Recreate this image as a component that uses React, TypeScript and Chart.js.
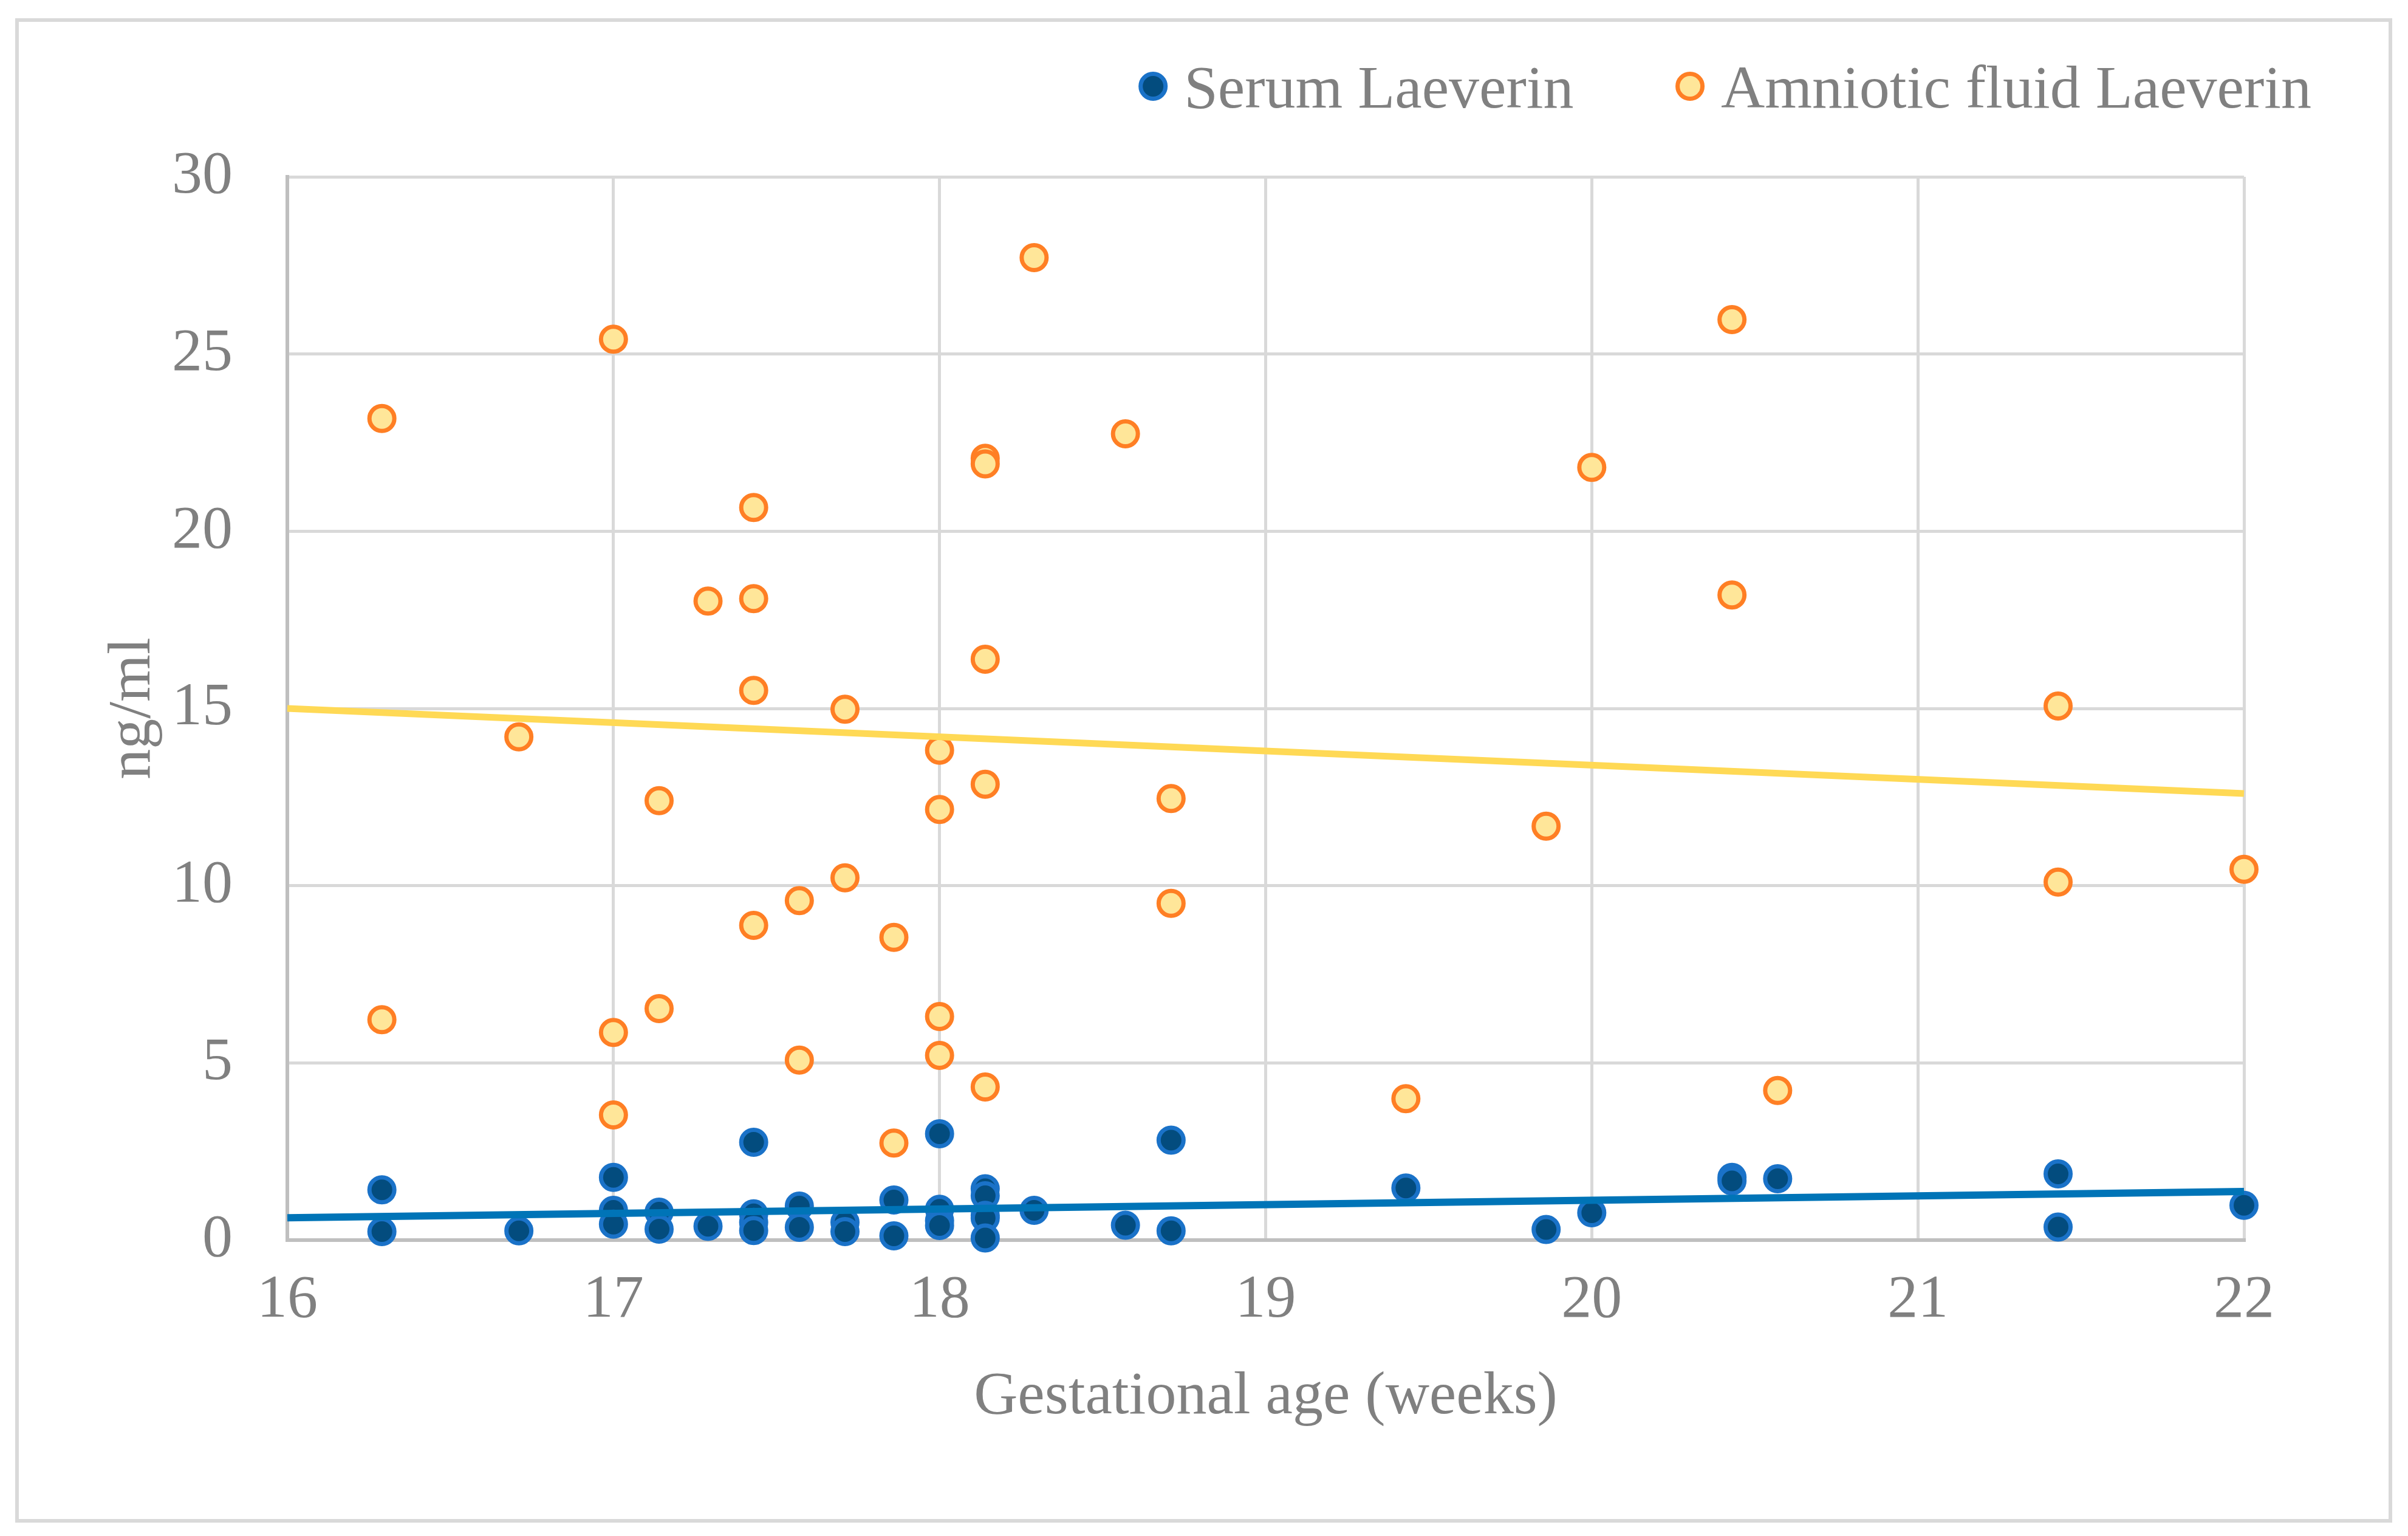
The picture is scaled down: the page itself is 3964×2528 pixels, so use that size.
import React, { useEffect, useRef } from "react";
import { Chart, registerables } from "chart.js";

Chart.register(...registerables);

// ---- data ----
const serumX = [
  16.29, 16.29, 16.71, 17.0, 17.0, 17.0, 17.14, 17.14, 17.29, 17.43, 17.43, 17.43, 17.43,
  17.57, 17.57, 17.71, 17.71, 17.86, 17.86, 18.0, 18.0, 18.0, 18.0, 18.14, 18.14, 18.14,
  18.14, 18.14, 18.29, 18.57, 18.71, 18.71, 19.43, 19.86, 20.0, 20.43, 20.43, 20.57, 21.43,
  21.43, 22.0,
];
const serumY = [
  1.42, 0.24, 0.26, 1.77, 0.84, 0.45, 0.79, 0.31, 0.39, 2.76, 0.74, 0.5, 0.27,
  0.96, 0.36, 0.5, 0.24, 1.13, 0.12, 3.0, 0.87, 0.55, 0.41, 1.45, 1.25, 0.7,
  0.62, 0.06, 0.84, 0.42, 2.82, 0.26, 1.47, 0.3, 0.77, 1.77, 1.67, 1.73, 1.87,
  0.37, 0.98,
];
const amnioX = [
  16.29, 16.29, 16.71, 17.0, 17.0, 17.0, 17.14, 17.14, 17.29, 17.43, 17.43, 17.43, 17.43,
  17.57, 17.57, 17.71, 17.71, 17.86, 17.86, 18.0, 18.0, 18.0, 18.0, 18.14, 18.14, 18.14,
  18.14, 18.14, 18.29, 18.57, 18.71, 18.71, 19.43, 19.86, 20.0, 20.43, 20.43, 20.57, 21.43,
  21.43, 22.0,
];
const amnioY = [
  23.18, 6.22, 14.2, 25.42, 5.86, 3.53, 12.4, 6.53, 18.03, 20.67, 18.1, 15.51, 8.88,
  9.58, 5.08, 14.98, 10.22, 8.54, 2.74, 13.82, 12.15, 6.31, 5.21, 22.06, 21.9, 16.39,
  12.86, 4.32, 27.72, 22.75, 12.46, 9.5, 3.99, 11.68, 21.8, 25.97, 18.2, 4.22, 15.07,
  10.1, 10.46,
];
const trendX = [16, 22];
const serumTrendY = [0.63, 1.37];
const amnioTrendY = [15.0, 12.6];

const seriesNames = ["Serum Laeverin", "Amniotic fluid Laeverin"];
const xAxisTitle = "Gestational age (weeks)";
const yAxisTitle = "ng/ml";
const xRange = [16, 22];
const yRange = [0, 30];
const xStep = 1;
const yStep = 5;

const TEXT = "#808080";
const FONT = '"Liberation Serif", "Times New Roman", serif';

const zip = (xs: number[], ys: number[]) => xs.map((x, i) => ({ x, y: ys[i] }));

const frame = {
  id: "frame",
  beforeDraw(chart: any) {
    const { ctx, width, height } = chart;
    ctx.save();
    ctx.fillStyle = "#ffffff";
    ctx.fillRect(0, 0, width, height);
    ctx.strokeStyle = "#d9d9d9";
    ctx.lineWidth = 6;
    ctx.strokeRect(28, 33, width - 57, height - 58);
    ctx.restore();
  },
};

const legend = {
  id: "customLegend",
  afterDraw(chart: any) {
    const { ctx } = chart;
    const items = chart.data.datasets.filter((d: any) => d.legendName);
    ctx.save();
    ctx.font = `100px ${FONT}`;
    ctx.textBaseline = "alphabetic";
    ctx.textAlign = "left";
    const right = 3805;
    const gap = 167;
    const markToText = 51;
    const r = 20.5;
    const y = 177;
    let x = right;
    const layout: any[] = [];
    for (let i = items.length - 1; i >= 0; i--) {
      const w = ctx.measureText(items[i].legendName).width;
      const textX = x - w;
      const markX = textX - markToText;
      layout.unshift({ item: items[i], textX, markX });
      x = markX - r - 4 - gap;
    }
    layout.forEach(({ item, textX, markX }) => {
      ctx.beginPath();
      ctx.arc(markX, 142, r, 0, Math.PI * 2);
      ctx.fillStyle = item.backgroundColor;
      ctx.fill();
      ctx.lineWidth = item.borderWidth;
      ctx.strokeStyle = item.borderColor;
      ctx.stroke();
      ctx.fillStyle = TEXT;
      ctx.fillText(item.legendName, textX, y);
    });
    ctx.restore();
  },
};

export default function App() {
  const ref = useRef<HTMLCanvasElement | null>(null);

  useEffect(() => {
    if (!ref.current) return;
    Chart.defaults.font.family = FONT;
    Chart.defaults.font.size = 100;
    Chart.defaults.color = TEXT;

    const chart = new Chart(ref.current, {
      type: "scatter",
      data: {
        datasets: [
          {
            type: "line",
            label: "Serum trend",
            data: zip(trendX, serumTrendY),
            borderColor: "#0074B7",
            borderWidth: 12,
            pointRadius: 0,
            fill: false,
            clip: false,
          } as any,
          {
            type: "line",
            label: "Amniotic trend",
            data: zip(trendX, amnioTrendY),
            borderColor: "#FFD955",
            borderWidth: 11,
            pointRadius: 0,
            fill: false,
            clip: false,
          } as any,
          {
            label: seriesNames[0],
            legendName: seriesNames[0],
            data: zip(serumX, serumY),
            backgroundColor: "#034C7E",
            borderColor: "#1A72C8",
            borderWidth: 7,
            pointRadius: 20.5,
            clip: false,
          } as any,
          {
            label: seriesNames[1],
            legendName: seriesNames[1],
            data: zip(amnioX, amnioY),
            backgroundColor: "#FFE699",
            borderColor: "#FF7F24",
            borderWidth: 7,
            pointRadius: 20.5,
            clip: false,
          } as any,
        ],
      },
      options: {
        animation: false,
        responsive: true,
        maintainAspectRatio: false,
        devicePixelRatio: 1,
        layout: { padding: { left: 30, right: 270, top: 291, bottom: 30 } },
        plugins: {
          legend: { display: false },
          tooltip: { enabled: false },
        },
        scales: {
          x: {
            type: "linear",
            min: xRange[0],
            max: xRange[1],
            ticks: { stepSize: xStep, padding: 40, color: TEXT, font: { size: 100 } },
            grid: { color: "#d9d9d9", lineWidth: 5, drawTicks: false },
            border: { color: "#bfbfbf", width: 6 },
            title: {
              display: true,
              text: xAxisTitle,
              color: TEXT,
              font: { size: 100 },
              padding: { top: 0, bottom: 138 },
            },
            afterFit: (s: any) => {
              s.height = 457;
            },
          },
          y: {
            type: "linear",
            min: yRange[0],
            max: yRange[1],
            ticks: { stepSize: yStep, padding: 90, color: TEXT, font: { size: 100 } },
            grid: { color: "#d9d9d9", lineWidth: 5, drawTicks: false },
            border: { color: "#bfbfbf", width: 6 },
            title: {
              display: true,
              text: yAxisTitle,
              color: TEXT,
              font: { size: 100 },
              padding: { top: 130, bottom: 0 },
            },
            afterFit: (s: any) => {
              s.width = 443;
            },
          },
        },
      } as any,
      plugins: [frame, legend],
    });
    return () => chart.destroy();
  }, []);

  return (
    <div style={{ position: "absolute", left: 0, top: 0, width: 3964, height: 2528 }}>
      <canvas ref={ref} />
    </div>
  );
}
